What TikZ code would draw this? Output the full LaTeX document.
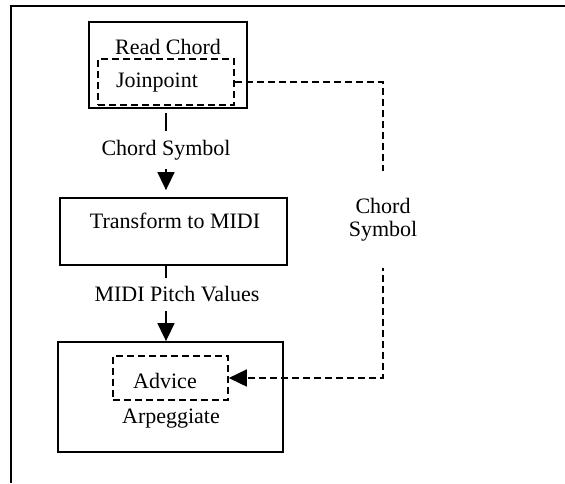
\documentclass[tikz,border=0pt]{standalone}
\usepackage{fontspec}
\setmainfont{Liberation Serif}
\usetikzlibrary{arrows.meta,positioning}
\tikzset{
    proc-box/.style = {draw, rectangle, line width=1.8pt, inner sep=0pt},
    join-box/.style = {draw, rectangle, line width=1.6pt, dash pattern=on 7pt off 4pt, inner sep=0pt},
    box-text/.style = {inner sep=0pt},
    flow/.style = {line width=1.6pt, -{Triangle[width=17pt,length=18pt]}},
    dash-flow/.style = {flow, dash pattern=on 7pt off 4pt},
    flow-tag/.style = {fill=white, inner xsep=2pt, inner ysep=9pt},
}

\begin{document}
\begin{tikzpicture}[x=1pt, y=-1pt, font=\fontsize{22}{23}\selectfont]
\useasboundingbox (0,0) rectangle (565,483);
\draw[line width=1.8pt] (565,6) -- (11,6) -- (11,483);

\node[proc-box, minimum width=158pt, minimum height=86pt] (read) at (168,65) {};
\node[box-text] (read-lbl) at (168,47) {Read Chord};
\node[join-box, minimum width=136pt, minimum height=46pt] (join) at (166,82) {};
\node[box-text] (join-lbl) at (157,83) {Joinpoint};

\node[proc-box, minimum width=227pt, minimum height=67pt] (trans) at (173.5,231.5) {};
\node[box-text] (trans-lbl) at (175,221) {Transform to MIDI};

\node[proc-box, minimum width=225pt, minimum height=110pt] (arp) at (170.5,397) {};
\node[join-box, minimum width=115pt, minimum height=44pt] (advice) at (170.5,378) {};
\node[box-text] (advice-lbl) at (165,381) {Advice};
\node[box-text] (arp-lbl) at (171,419) {Arpeggiate};

\coordinate (turn) at (383,82);

\draw[flow, shorten <=4pt, shorten >=7pt] (read.south -| join) -- node[flow-tag, pos=0.47] (sym-tag) {Chord Symbol} (trans.north -| join);
\draw[flow] (trans.south -| join) -- node[flow-tag, pos=0.38, xshift=11pt] (pitch-tag) {MIDI Pitch Values} (arp.north -| join);
\draw[dash-flow] (join.east) -- (turn) -- node[flow-tag, align=center, pos=0.466, minimum height=97pt] (sym-tag2) {Chord\\Symbol} (turn |- advice.east) -- (advice.east);
\end{tikzpicture}
\end{document}
